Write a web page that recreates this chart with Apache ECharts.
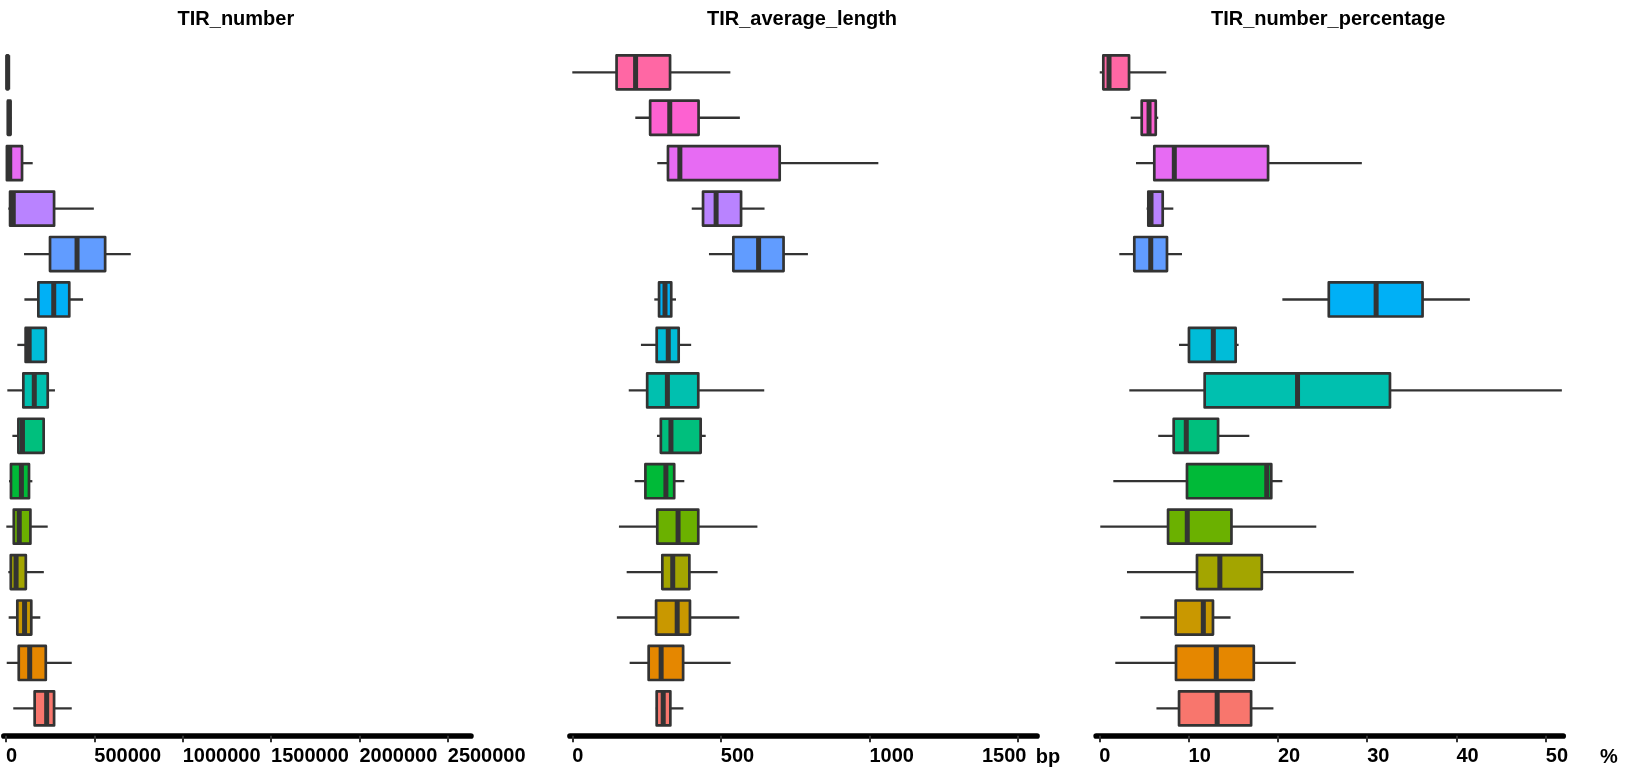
<!DOCTYPE html>
<html>
<head>
<meta charset="utf-8">
<script src="https://cdn.jsdelivr.net/npm/echarts@6/dist/echarts.min.js"></script>
<style>
  html, body { margin: 0; padding: 0; background: #ffffff; }
  #chart { width: 1632px; height: 771px; }
</style>
</head>
<body>
<div id="chart"></div>
<script>
// Groups, listed from the bottom row of each panel to the top row
const categories = ['G01', 'G02', 'G03', 'G04', 'G05', 'G06', 'G07', 'G08',
                    'G09', 'G10', 'G11', 'G12', 'G13', 'G14', 'G15'];

// One fill per group (hue wheel, 15 steps)
const fillColors = ['#F8766D', '#E58700', '#C99800', '#A3A500', '#6BB100',
                    '#00BA38', '#00BF7D', '#00C0AF', '#00BCD8', '#00B0F6',
                    '#619CFF', '#B983FF', '#E76BF3', '#FD61D1', '#FF67A4'];

// Five-number summaries: [lower whisker, Q1, median, Q3, upper whisker]
const tirNumber = [
  [41000, 162000, 230000, 272000, 372000],
  [4000, 72000, 134000, 225000, 372000],
  [15000, 64000, 105000, 143000, 194000],
  [13000, 27000, 57000, 112000, 214000],
  [1700, 44000, 75000, 138000, 236000],
  [17000, 28000, 87000, 130000, 149000],
  [36000, 70000, 93000, 213000, 217000],
  [7400, 98000, 160000, 236000, 277000],
  [64000, 111000, 131000, 225000, 227000],
  [104000, 183000, 270000, 358000, 436000],
  [102000, 249000, 402000, 561000, 706000],
  [13000, 23000, 41000, 272000, 497000],
  [4000, 5000, 21000, 90600, 151000],
  [6000, 11000, 18000, 25000, 30000],
  [3000, 5000, 9500, 12000, 15000]
];

const tirAverageLength = [
  [281, 284, 306, 330, 374],
  [193, 257, 299, 373, 533],
  [150, 282, 353, 396, 562],
  [183, 303, 338, 394, 489],
  [157, 286, 356, 424, 623],
  [210, 246, 315, 343, 377],
  [285, 298, 332, 432, 449],
  [190, 252, 320, 424, 646],
  [231, 284, 323, 358, 400],
  [276, 292, 312, 333, 349],
  [460, 542, 627, 711, 793],
  [402, 440, 484, 568, 647],
  [286, 322, 362, 698, 1030],
  [212, 262, 328, 425, 564],
  [0, 149, 213, 329, 532]
];

const tirNumberPercentage = [
  [6.4, 8.93, 13.2, 17.0, 19.5],
  [1.79, 8.59, 13.1, 17.3, 22.0],
  [4.59, 8.55, 11.65, 12.73, 14.7],
  [3.1, 10.94, 13.5, 18.2, 28.5],
  [0.11, 7.7, 9.85, 14.8, 24.3],
  [1.57, 9.82, 18.75, 19.26, 20.5],
  [6.6, 8.33, 9.74, 13.3, 16.8],
  [3.36, 11.8, 22.2, 32.55, 51.8],
  [8.93, 10.04, 12.77, 15.27, 15.6],
  [20.5, 25.7, 31.0, 36.2, 41.5],
  [2.24, 3.92, 5.76, 7.58, 9.26],
  [5.3, 5.49, 5.79, 7.1, 8.29],
  [4.11, 6.16, 8.4, 18.9, 29.4],
  [3.52, 4.75, 5.57, 6.32, 6.6],
  [0.05, 0.45, 1.09, 3.33, 7.5]
];

const panelTitles = ['TIR_number', 'TIR_average_length', 'TIR_number_percentage'];
const ticksNumber = [0, 500000, 1000000, 1500000, 2000000, 2500000];
const ticksLength = [0, 500, 1000, 1500];
const ticksPercentage = [0, 10, 20, 30, 40, 50];
const unitLabels = ['', 'bp', '%'];

// Panel geometry and axis ranges
const FONT = '"Liberation Sans", Arial, Helvetica, sans-serif';
const GRID_TOP = 49.6;
const GRID_HEIGHT = 681.5;
const GRID_WIDTH = 467;
const panels = [
  { stats: tirNumber, ticks: ticksNumber, min: -12000, max: 2631000, left: 3.9, pullLast: 0 },
  { stats: tirAverageLength, ticks: ticksLength, min: -7.74, max: 1564, left: 570, pullLast: 36 },
  { stats: tirNumberPercentage, ticks: ticksPercentage, min: -0.347, max: 51.95, left: 1096.2, pullLast: 0 }
];

// Box: whisker line underneath, filled box on top, thick median bar
function renderBox(params, api) {
  const idx = api.value(0);
  const yc = api.coord([0, idx])[1];
  const band = api.size([0, 1])[1];
  const h = band * 0.75;
  const xs = [1, 2, 3, 4, 5].map(function (d) { return api.coord([api.value(d), idx])[0]; });
  const ink = '#333333';
  return {
    type: 'group',
    children: [
      {
        type: 'line',
        shape: { x1: xs[0], y1: yc, x2: xs[4], y2: yc },
        style: { stroke: ink, lineWidth: 2.3 }
      },
      {
        type: 'rect',
        shape: { x: xs[1], y: yc - h / 2, width: xs[3] - xs[1], height: h },
        style: { fill: fillColors[idx], stroke: ink, lineWidth: 2.7, lineJoin: 'round' }
      },
      {
        type: 'line',
        shape: { x1: xs[2], y1: yc - h / 2, x2: xs[2], y2: yc + h / 2 },
        style: { stroke: ink, lineWidth: 5 }
      }
    ]
  };
}

const labelText = { color: '#000000', fontSize: 20, fontWeight: 'bold', fontFamily: FONT };

const grids = [], xAxes = [], yAxes = [], series = [], graphics = [];

panels.forEach(function (p, k) {
  const lastTick = p.ticks[p.ticks.length - 1];
  grids.push({ left: p.left, top: GRID_TOP, width: GRID_WIDTH, height: GRID_HEIGHT });
  xAxes.push({
    type: 'value',
    gridIndex: k,
    min: p.min,
    max: p.max,
    offset: 4.6,
    axisLine: { show: true, onZero: false, lineStyle: { color: '#000000', width: 5.7 } },
    axisTick: {
      show: true,
      customValues: p.ticks,
      length: 6.5,
      lineStyle: { color: '#333333', width: 2 }
    },
    axisLabel: Object.assign({
      customValues: p.ticks,
      margin: 11,
      align: 'left',
      formatter: function (v) {
        // the last label of the length panel is pulled left, clear of the unit
        if (p.pullLast && v === lastTick) { return '{pull|' + v + '}'; }
        return String(v);
      },
      rich: {
        pull: Object.assign({ padding: [0, 0, 0, -p.pullLast] }, labelText)
      }
    }, labelText),
    splitLine: { show: false }
  });
  yAxes.push({ type: 'category', gridIndex: k, data: categories, show: false });
  series.push({
    type: 'custom',
    xAxisIndex: k,
    yAxisIndex: k,
    renderItem: renderBox,
    encode: { x: [1, 2, 3, 4, 5], y: 0 },
    data: p.stats.map(function (s, i) { return [i].concat(s); }),
    silent: true,
    animation: false
  });
  graphics.push({
    type: 'text',
    style: {
      text: panelTitles[k],
      x: p.left + GRID_WIDTH / 2 - 1.5,
      y: 19,
      align: 'center',
      verticalAlign: 'middle',
      fill: '#000000',
      font: 'bold 20px ' + FONT
    }
  });
  if (unitLabels[k]) {
    graphics.push({
      type: 'text',
      style: {
        text: unitLabels[k],
        x: k === 1 ? 1048 : 1609,
        y: 757,
        align: 'center',
        verticalAlign: 'middle',
        fill: '#000000',
        font: 'bold 20px ' + FONT
      }
    });
  }
});

const chart = echarts.init(document.getElementById('chart'), null, { renderer: 'canvas' });
chart.setOption({
  backgroundColor: '#ffffff',
  animation: false,
  grid: grids,
  xAxis: xAxes,
  yAxis: yAxes,
  series: series,
  graphic: graphics
});
</script>
</body>
</html>
